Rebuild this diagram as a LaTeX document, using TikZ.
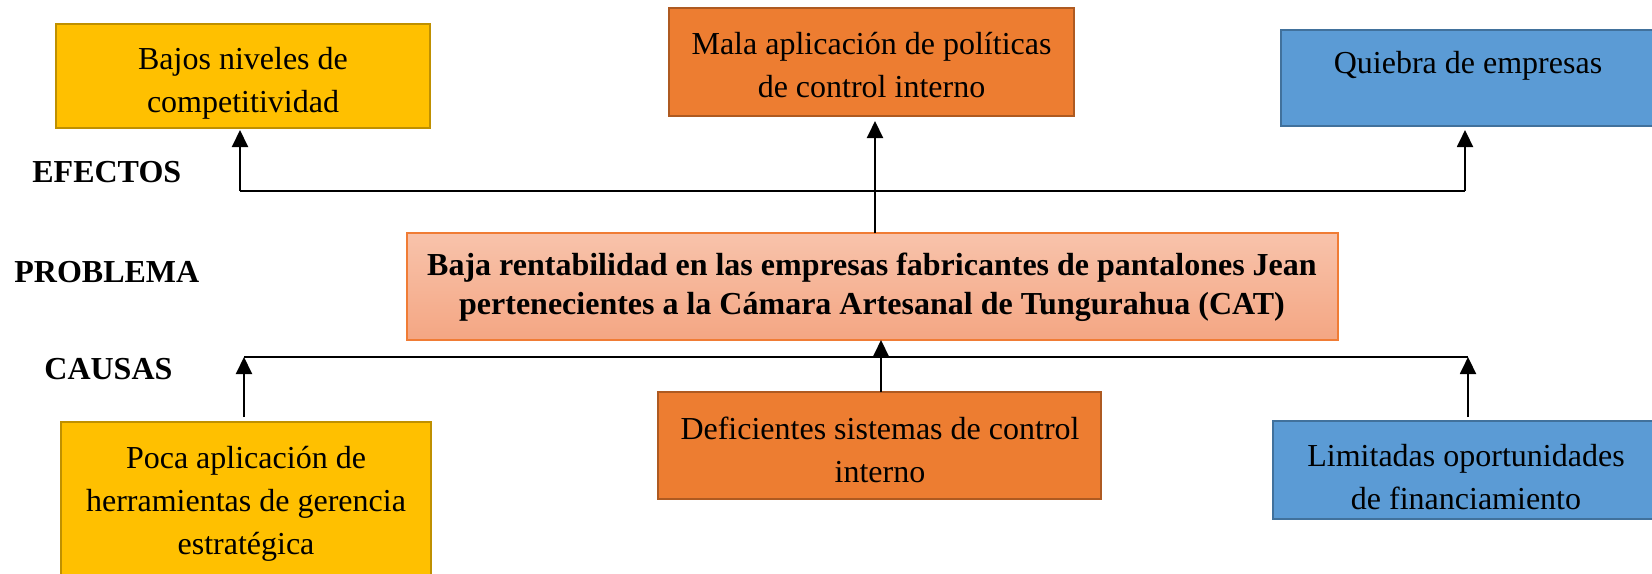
\documentclass[tikz,border=0pt]{standalone}
\usepackage{fontspec}
\setmainfont{Liberation Serif}
\usetikzlibrary{arrows.meta}
\definecolor{gold}{HTML}{FFC000}
\definecolor{goldline}{HTML}{BF9000}
\definecolor{orng}{HTML}{ED7D31}
\definecolor{orngline}{HTML}{AE5A21}
\definecolor{blu}{HTML}{5B9BD5}
\definecolor{bluline}{HTML}{41719C}
\definecolor{probtop}{HTML}{F8C3AB}
\definecolor{probbot}{HTML}{F4A683}
\definecolor{probline}{HTML}{F07C35}
\tikzset{
  box/.style={line width=1pt, inner sep=0pt, outer sep=0pt, anchor=north west},
  txt/.style={align=center, inner sep=0pt, font=\fontsize{16pt}{21.5pt}\selectfont},
  btxt/.style={align=center, inner sep=0pt, font=\fontsize{16pt}{19.5pt}\selectfont\bfseries},
  lbl/.style={anchor=base west, inner sep=0pt, font=\fontsize{16pt}{19pt}\selectfont\bfseries},
  conn/.style={line width=1pt, draw=black},
  arr/.style={line width=1pt, draw=black, -{Triangle[width=8pt,length=8.5pt]}},
}
\begin{document}
\begin{tikzpicture}[x=0.5pt,y=-0.5pt]
\useasboundingbox (0,0) rectangle (1652,573);
\clip (0,0) rectangle (1652,573);
% effect boxes
\node[box, fill=gold, draw=goldline, minimum width=187pt, minimum height=52pt] (bajos) at (56,24) {};
\node[box, fill=orng, draw=orngline, minimum width=202.5pt, minimum height=54pt] (mala) at (669,8) {};
\node[box, fill=blu, draw=bluline, minimum width=187.5pt, minimum height=48pt] (quiebra) at (1281,30) {};
% problem box
\node[box, top color=probtop, bottom color=probbot, draw=probline, minimum width=465.5pt, minimum height=53.5pt] (prob) at (407,233) {};
% cause boxes
\node[box, fill=gold, draw=goldline, minimum width=185pt, minimum height=80pt] (poca) at (61,422) {};
\node[box, fill=orng, draw=orngline, minimum width=221.5pt, minimum height=53.5pt] (defic) at (658,392) {};
\node[box, fill=blu, draw=bluline, minimum width=195pt, minimum height=49pt] (limit) at (1273,421) {};
% texts
\node[txt] (tbajos) at (243,83) {Bajos niveles de\\competitividad};
\node[txt] (tmala) at (871.5,65) {Mala aplicación de políticas\\de control interno};
\node[txt] (tquiebra) at (1468,66) {Quiebra de empresas};
\node[btxt] (tprob) at (872,287) {Baja rentabilidad en las empresas fabricantes de pantalones Jean\\pertenecientes a la Cámara Artesanal de Tungurahua (CAT)};
\node[txt] (tpoca) at (246,504) {Poca aplicación de\\herramientas de gerencia\\estratégica};
\node[txt] (tdefic) at (880,450) {Deficientes sistemas de control\\interno};
\node[txt] (tlimit) at (1466,477) {Limitadas oportunidades\\de financiamiento};
% side labels
\node[lbl] (efectos) at (32,182) {EFECTOS};
\node[lbl] (problema) at (14,282) {PROBLEMA};
\node[lbl] (causas) at (44,379) {CAUSAS};
% effect connectors
\coordinate (eleft) at (240,191);
\coordinate (emid) at (875,191);
\coordinate (eright) at (1465,191);
\draw[conn] (eleft) -- (eright);
\draw[arr, shorten >=1pt] (eleft) -- (eleft |- bajos.south);
\draw[arr, shorten >=2pt] (eright) -- (eright |- quiebra.south);
\draw[arr, shorten >=2.5pt] (emid |- prob.north) -- (emid |- mala.south);
% cause connectors
\coordinate (cleft) at (244,357);
\coordinate (cmid) at (881,357);
\coordinate (cright) at (1468,357);
\draw[conn] (cleft) -- (cright);
\draw[arr, shorten <=2.5pt] (cleft |- poca.north) -- (cleft);
\draw[arr] (cmid |- defic.north) -- (cmid |- prob.south);
\draw[arr, shorten <=2pt] (cright |- limit.north) -- (cright);
\end{tikzpicture}
\end{document}
